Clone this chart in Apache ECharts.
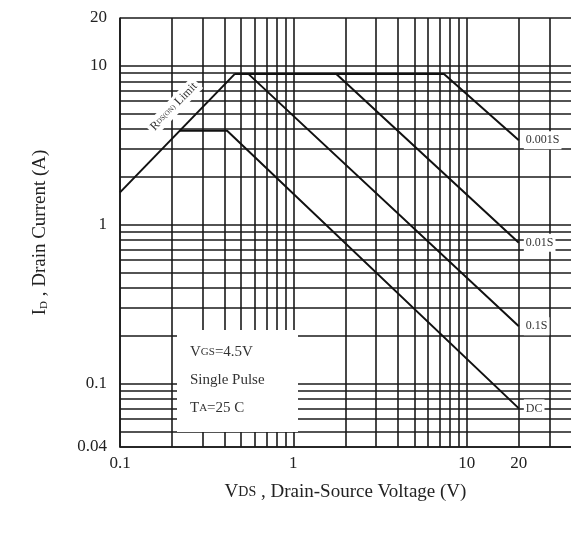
<!DOCTYPE html>
<html><head><meta charset="utf-8">
<script src="https://cdn.jsdelivr.net/npm/echarts@6/dist/echarts.min.js"></script>
<style>html,body{margin:0;padding:0;background:#fff}#c{width:571px;height:540px}</style>
</head><body><div id="c"></div>
<script>
// Tick labels
const xTickLabels = [0.1, 1, 10, 20];
const yTickLabels = [0.04, 0.1, 1, 10, 20];
// Log grid lines
const xGridValues = [0.1,0.2,0.3,0.4,0.5,0.6,0.7,0.8,0.9,1,2,3,4,5,6,7,8,9,10,20,30];
const yGridValues = [0.04,0.05,0.06,0.07,0.08,0.09,0.1,0.2,0.3,0.4,0.5,0.6,0.7,0.8,0.9,1,2,3,4,5,6,7,8,9,10,20];
// Curves (VDS in V, ID in A)
const rdsV = [0.1, 0.46];        const rdsI = [1.6, 8.9];
const p001V = [0.46, 7.4, 20];   const p001I = [8.9, 8.9, 3.4];
const p01V = [0.46, 1.77, 20];   const p01I = [8.9, 8.9, 0.77];
const p1V = [0.46, 0.55, 20];    const p1I = [8.9, 8.9, 0.23];
const dcV = [0.22, 0.415, 20];   const dcI = [3.9, 3.9, 0.07];

const serif = 'Liberation Serif';
const ink = '#1a1a1a';

function mk(name, V, I, showEnd) {
  return {
    type: 'line', name: name, silent: true, animation: false, symbol: 'none', z: 5,
    data: V.map((v, i) => [v, I[i]]),
    lineStyle: { color: '#111', width: 2 },
    endLabel: showEnd ? {
      show: true, formatter: name, color: '#333', fontFamily: serif, fontSize: 12,
      backgroundColor: '#fff', padding: [3, 2], distance: 5
    } : { show: false }
  };
}

const chart = echarts.init(document.getElementById('c'), null, { renderer: 'canvas' });
chart.setOption({
  animation: false,
  backgroundColor: '#fff',
  grid: { left: 120, right: 0, top: 18, bottom: 93 },
  xAxis: {
    type: 'log', min: 0.1, max: 40, logBase: 10,
    axisLine: { show: true, lineStyle: { color: ink, width: 1.6 } },
    axisTick: { show: false, customValues: xGridValues },
    axisLabel: { customValues: xTickLabels, color: '#222', fontFamily: serif, fontSize: 17, margin: 8 },
    splitLine: { show: true, lineStyle: { color: ink, width: 1.6 } },
    minorTick: { show: false }, minorSplitLine: { show: false },
    name: '{v|V}{s|DS} , Drain-Source Voltage (V)',
    nameLocation: 'middle', nameGap: 36,
    nameTextStyle: { color: '#222', fontFamily: serif, fontSize: 19,
      rich: { v: { fontFamily: serif, fontSize: 19, color: '#222' }, s: { fontFamily: serif, fontSize: 14, color: '#222' } } }
  },
  yAxis: {
    type: 'log', min: 0.04, max: 20, logBase: 10,
    axisLine: { show: true, lineStyle: { color: ink, width: 1.6 } },
    axisTick: { show: false, customValues: yGridValues },
    axisLabel: { customValues: yTickLabels, color: '#222', fontFamily: serif, fontSize: 17, margin: 13 },
    splitLine: { show: true, lineStyle: { color: ink, width: 1.6 } },
    minorTick: { show: false }, minorSplitLine: { show: false },
    name: '{i|I}{d|D} , Drain Current (A)',
    nameLocation: 'middle', nameGap: 70, nameRotate: 90,
    nameTextStyle: { color: '#222', fontFamily: serif, fontSize: 19,
      rich: { i: { fontFamily: serif, fontSize: 19, color: '#222' }, d: { fontFamily: serif, fontSize: 11, color: '#222', verticalAlign: 'bottom', padding: [6, 0, 0, 0] } } }
  },
  series: [
    mk('RDS(ON) Limit', rdsV, rdsI, false),
    mk('0.001S', p001V, p001I, true),
    mk('0.01S', p01V, p01I, true),
    mk('0.1S', p1V, p1I, true),
    mk('DC', dcV, dcI, true)
  ]
});

// Annotations: conditions box and RDS(ON) limit label
const pA = chart.convertToPixel({ gridIndex: 0 }, [rdsV[0], rdsI[0]]);
const pB = chart.convertToPixel({ gridIndex: 0 }, [rdsV[1], rdsI[1]]);
const ang = Math.atan2(pA[1] - pB[1], pB[0] - pA[0]);
const t = 0.6;
const mx = pA[0] + (pB[0] - pA[0]) * t, my = pA[1] + (pB[1] - pA[1]) * t;
const off = 21;
const lx = mx - Math.sin(ang) * off, ly = my - Math.cos(ang) * off;

chart.setOption({
  graphic: [
    { type: 'rect', z: 50, shape: { x: 177, y: 330, width: 121, height: 102 }, style: { fill: '#fff' } },
    { type: 'text', z: 51, x: 190, y: 352, style: {
        text: '{a|V}{b|GS}{a|=4.5V}', verticalAlign: 'middle',
        rich: { a: { fontFamily: serif, fontSize: 15, fill: '#333' }, b: { fontFamily: serif, fontSize: 11, fill: '#333' } } } },
    { type: 'text', z: 51, x: 190, y: 380, style: {
        text: 'Single Pulse', verticalAlign: 'middle', fontFamily: serif, fontSize: 15, fill: '#333' } },
    { type: 'text', z: 51, x: 190, y: 408, style: {
        text: '{a|T}{b|A}{a|=25 C}', verticalAlign: 'middle',
        rich: { a: { fontFamily: serif, fontSize: 15, fill: '#333' }, b: { fontFamily: serif, fontSize: 11, fill: '#333' } } } },
    { type: 'text', z: 51, x: lx, y: ly, rotation: ang, style: {
        text: '{r|R}{s|DS(ON)} {r|Limit}', align: 'center', verticalAlign: 'middle',
        backgroundColor: '#fff', padding: [2, 3],
        rich: { r: { fontFamily: serif, fontSize: 12, fill: '#333' }, s: { fontFamily: serif, fontSize: 7, fill: '#333' } } } }
  ]
});
</script>
</body></html>
